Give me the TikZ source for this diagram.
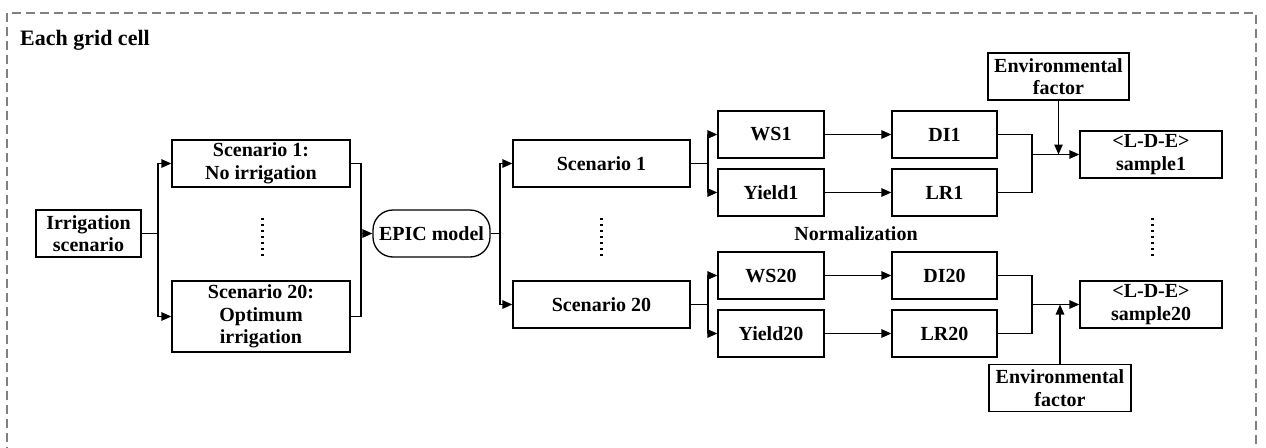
\documentclass[tikz,border=0pt]{standalone}
\usepackage{fontspec}
\setmainfont{Liberation Serif}
\usetikzlibrary{arrows.meta}
\begin{document}
\begin{tikzpicture}[x=1pt,y=-1pt,
  font=\fontsize{20}{22.5}\selectfont\bfseries,
  box/.style={draw, line width=1.3pt, align=center, inner sep=1pt, minimum height=47pt},
  conn/.style={line width=1.3pt},
  arr/.style={line width=1.3pt, -{Triangle[length=10pt,width=8.5pt]}},
  vdots/.style={line width=3pt, dash pattern=on 2.2pt off 3.8pt}]
\useasboundingbox (0,0) rectangle (1266,447);
\draw[gray, line width=1.3pt, dash pattern=on 9pt off 5pt] (7,470) -- (7,13) -- (1256,13) -- (1256,470);
\node[anchor=base west, inner sep=0pt, font=\fontsize{22}{24}\selectfont\bfseries] (title) at (20,45) {Each grid cell};

\node[box, minimum width=105pt] (irr) at (88.5,233.5) {Irrigation\\scenario};
\node[box, minimum width=178pt] (s1a) at (261,163.5) {Scenario 1:\\No irrigation};
\node[box, minimum width=178pt, minimum height=71pt] (s20a) at (261,316.5) {Scenario 20:\\Optimum\\irrigation};
\node[box, minimum width=117pt, rounded corners=20pt] (epic) at (431.5,233.5) {EPIC model};
\node[box, minimum width=177pt] (s1b) at (601.5,163.5) {Scenario 1};
\node[box, minimum width=177pt] (s20b) at (601.5,304.5) {Scenario 20};
\node[box, minimum width=106pt] (ws1) at (771,134.5) {WS1};
\node[box, minimum width=106pt] (y1) at (771,192.5) {Yield1};
\node[box, minimum width=106pt] (ws20) at (771,275.5) {WS20};
\node[box, minimum width=106pt] (y20) at (771,333.5) {Yield20};
\node[box, minimum width=105pt] (di1) at (944.5,134.5) {DI1};
\node[box, minimum width=105pt] (lr1) at (944.5,192.5) {LR1};
\node[box, minimum width=105pt] (di20) at (944.5,275.5) {DI20};
\node[box, minimum width=105pt] (lr20) at (944.5,333.5) {LR20};
\node[box, minimum width=142pt] (smp1) at (1151,154.5) {<L-D-E>\\sample1};
\node[box, minimum width=142pt] (smp20) at (1151,304.5) {<L-D-E>\\sample20};
\node[box, minimum width=141pt] (env1) at (1058.5,76.5) {Environmental\\factor};
\node[box, minimum width=142pt] (env2) at (1060,388) {Environmental\\factor};
\node (norm) at (856,234) {Normalization};

\coordinate (ja) at (158,233.5);
\coordinate (jb) at (361,233.5);
\coordinate (jc) at (500,233.5);
\coordinate (jd1) at (708,163.5);
\coordinate (jd2) at (708,304.5);
\coordinate (je1) at (1032,154.5);
\coordinate (je2) at (1032,304.5);

\draw[conn] (irr.east) -- (ja);
\draw[arr] (ja) |- (s1a.west);
\draw[arr] (ja) |- (s20a.west);
\draw[conn] (s1a.east) -| (jb);
\draw[conn] (s20a.east) -| (jb);
\draw[arr] (jb) -- (epic.west);
\draw[conn] (epic.east) -- (jc);
\draw[arr] (jc) |- (s1b.west);
\draw[arr] (jc) |- (s20b.west);
\draw[conn] (s1b.east) -- (jd1);
\draw[arr] (jd1) |- (ws1.west);
\draw[arr] (jd1) |- (y1.west);
\draw[conn] (s20b.east) -- (jd2);
\draw[arr] (jd2) |- (ws20.west);
\draw[arr] (jd2) |- (y20.west);
\draw[arr] (ws1.east) -- (di1.west);
\draw[arr] (y1.east) -- (lr1.west);
\draw[arr] (ws20.east) -- (di20.west);
\draw[arr] (y20.east) -- (lr20.west);
\draw[conn] (di1.east) -| (je1);
\draw[conn] (lr1.east) -| (je1);
\draw[arr] (je1) -- (smp1.west);
\draw[conn] (di20.east) -| (je2);
\draw[conn] (lr20.east) -| (je2);
\draw[arr] (je2) -- (smp20.west);
\draw[arr] (env1.south) -- (env1.south |- je1);
\draw[arr] (env2.north) -- (env2.north |- je2);

\draw[vdots] (262,218) -- (262,256);
\draw[vdots] (601,218) -- (601,256);
\draw[vdots] (1152,218) -- (1152,256);
\end{tikzpicture}
\end{document}
